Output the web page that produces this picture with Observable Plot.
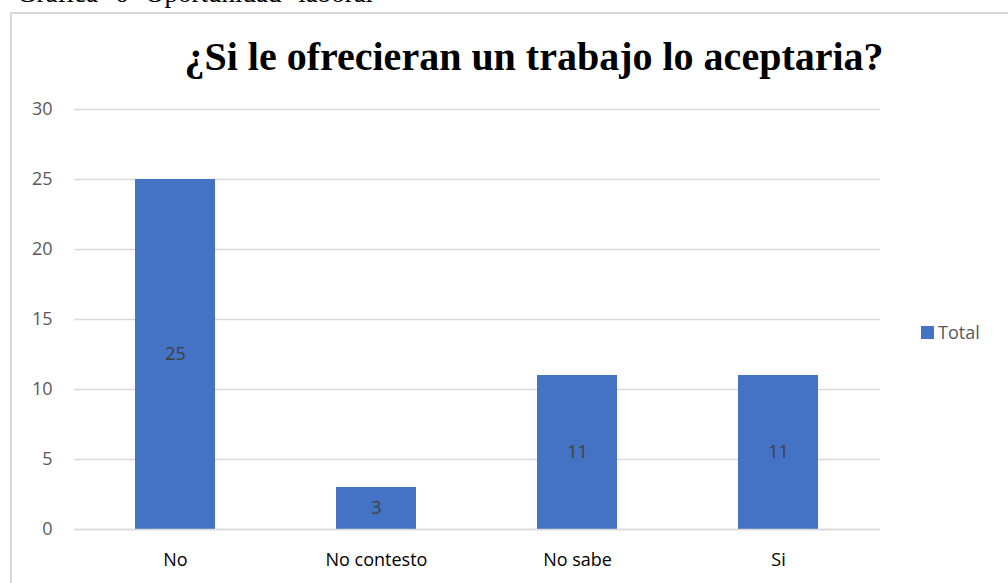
<!DOCTYPE html>
<html><head><meta charset="utf-8">
<script src="https://cdn.jsdelivr.net/npm/d3@7"></script>
<script src="https://cdn.jsdelivr.net/npm/@observablehq/plot@0.6"></script>
<style>
body{margin:0;background:#fff;width:1008px;height:583px;overflow:hidden;position:relative;font-family:"Open Sans","Noto Sans",sans-serif;}
#cap{position:absolute;left:17px;top:-20px;line-height:1;font-family:"Liberation Serif","Times New Roman",serif;font-size:27px;word-spacing:10px;color:#000;white-space:nowrap;}
#frame{position:absolute;left:10px;top:12px;width:1100px;height:700px;border:2px solid #d9d9d9;box-sizing:border-box;}
#title{position:absolute;left:0;width:1068px;top:33px;text-align:center;font-family:"Liberation Serif","Times New Roman",serif;font-weight:bold;font-size:40px;color:#000;}
#chart{position:absolute;left:0;top:0;}
#legend{position:absolute;left:921px;top:320px;font-size:18px;color:#595959;display:flex;align-items:center;gap:4px;}
#legend span.sw{display:inline-block;width:13px;height:13px;background:#4472c4;}
</style></head>
<body>
<div id="cap">Gráfica 6 Oportunidad laboral</div>
<div id="frame"></div>
<div id="title">¿Si le ofrecieran un trabajo lo aceptaria?</div>
<div id="chart"></div>
<div id="legend"><span class="sw"></span><span>Total</span></div>
<script>
const categories = ["No", "No contesto", "No sabe", "Si"];
const values = [25, 3, 11, 11];
const yTicks = [0, 5, 10, 15, 20, 25, 30];
const data = categories.map((c, i) => ({cat: c, val: values[i]}));

const plot = Plot.plot({
  width: 1008, height: 583,
  marginLeft: 74, marginRight: 128, marginTop: 109, marginBottom: 54,
  style: {background: "transparent", fontFamily: "'Open Sans','Noto Sans',sans-serif", fontSize: "18px", color: "#595959"},
  x: {domain: categories, paddingInner: 0.6, paddingOuter: 0.3, label: null},
  y: {domain: [0, 30], label: null},
  marks: [
    Plot.gridY(yTicks, {stroke: "#d9d9d9", strokeOpacity: 1, strokeWidth: 1.5}),
    Plot.barY(data, {x: "cat", y: "val", fill: "#4472c4"}),
    Plot.ruleY([0], {stroke: "#d9d9d9", strokeWidth: 1.5}),
    Plot.text(data, {x: "cat", y: d => d.val / 2, text: d => String(d.val), fill: "#404040", fontSize: 18}),
    Plot.axisY(yTicks, {tickSize: 0, tickPadding: 22, fill: "#595959", fontSize: 18, label: null}),
    Plot.axisX({tickSize: 0, tickPadding: 24, fill: "#000", fontSize: 18, label: null})
  ]
});
document.getElementById("chart").appendChild(plot);
</script>
</body></html>
